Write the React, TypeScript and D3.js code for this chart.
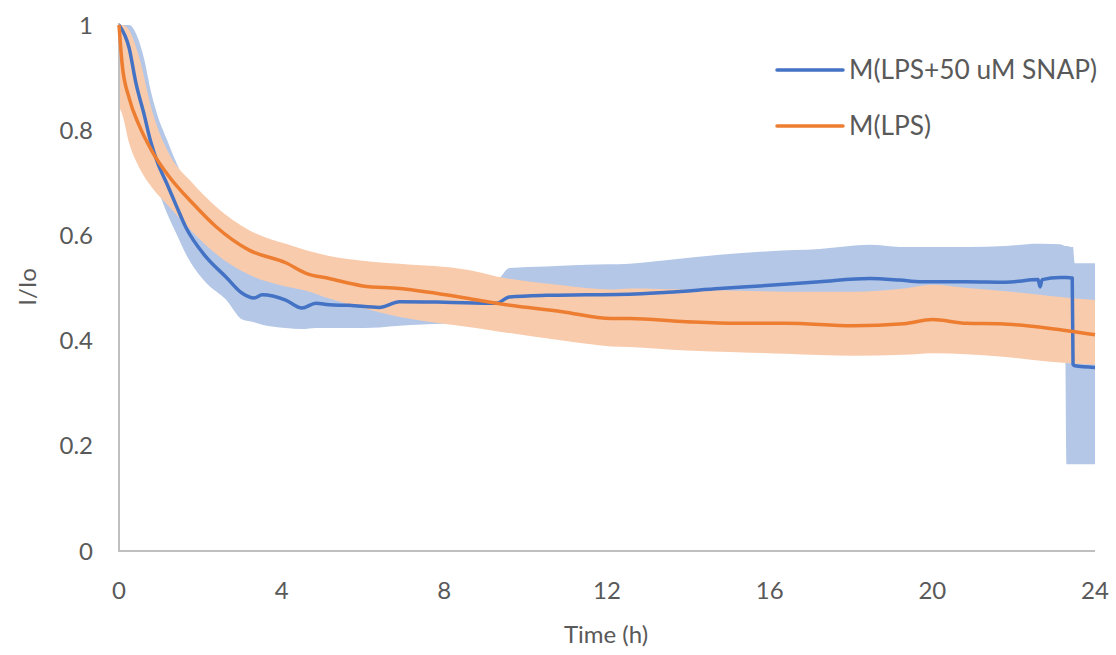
import React from "react";
import * as d3 from "d3";

// M(LPS+50 uM SNAP) — mean with shaded spread
const snapTime = [0, 0.25, 0.41, 0.62, 0.78, 0.94, 1.19, 1.4, 1.64, 2.14, 2.63, 3.03, 3.32, 3.52, 4.1, 4.5, 4.84, 5.17, 5.66, 6.4, 6.9, 8.0, 9.28, 9.6, 10.5, 11.5, 12.55, 13.5, 14.77, 16.0, 17.23, 18.46, 19.2, 19.7, 20.84, 21.8, 22.6, 22.65, 22.7, 23.14, 23.26, 23.3, 23.44, 23.46, 23.5, 24];
const snapMean = [1.0, 0.956, 0.892, 0.829, 0.778, 0.74, 0.696, 0.658, 0.616, 0.559, 0.521, 0.49, 0.481, 0.487, 0.477, 0.462, 0.471, 0.468, 0.467, 0.463, 0.474, 0.473, 0.471, 0.483, 0.486, 0.487, 0.488, 0.492, 0.499, 0.505, 0.512, 0.518, 0.515, 0.512, 0.512, 0.511, 0.516, 0.502, 0.516, 0.52, 0.52, 0.52, 0.519, 0.355, 0.352, 0.349];
const snapLow = [0.95, 0.88, 0.83, 0.77, 0.72, 0.69, 0.64, 0.605, 0.565, 0.51, 0.478, 0.44, 0.435, 0.43, 0.424, 0.422, 0.424, 0.424, 0.424, 0.425, 0.428, 0.432, 0.43, 0.43, 0.43, 0.43, 0.43, 0.43, 0.44, 0.445, 0.45, 0.455, 0.455, 0.45, 0.45, 0.45, 0.45, 0.45, 0.45, 0.45, 0.45, 0.165, 0.165, 0.165, 0.165, 0.165];
const snapHigh = [1.0, 1.0, 0.985, 0.935, 0.875, 0.83, 0.78, 0.74, 0.7, 0.62, 0.58, 0.55, 0.54, 0.54, 0.535, 0.53, 0.53, 0.53, 0.525, 0.52, 0.515, 0.515, 0.515, 0.538, 0.541, 0.544, 0.546, 0.553, 0.563, 0.57, 0.574, 0.582, 0.578, 0.578, 0.578, 0.58, 0.584, 0.584, 0.584, 0.583, 0.58, 0.58, 0.578, 0.578, 0.547, 0.547];

// M(LPS) — mean with shaded spread
const lpsTime = [0, 0.08, 0.25, 0.49, 0.82, 1.23, 1.8, 2.38, 3.2, 4.1, 4.6, 5.17, 5.99, 6.9, 8.6, 9.28, 10.9, 12.1, 12.55, 13.95, 15.2, 16.4, 18.05, 19.3, 20.0, 20.84, 21.66, 22.9, 24];
const lpsMean = [1.0, 0.924, 0.861, 0.81, 0.759, 0.712, 0.662, 0.617, 0.572, 0.548, 0.528, 0.518, 0.504, 0.499, 0.48, 0.471, 0.455, 0.442, 0.442, 0.436, 0.433, 0.433, 0.428, 0.432, 0.44, 0.433, 0.432, 0.423, 0.411];
const lpsLow = [0.844, 0.83, 0.775, 0.73, 0.69, 0.655, 0.607, 0.565, 0.525, 0.503, 0.495, 0.48, 0.462, 0.445, 0.426, 0.418, 0.4, 0.389, 0.388, 0.381, 0.378, 0.375, 0.371, 0.373, 0.376, 0.374, 0.37, 0.36, 0.354];
const lpsHigh = [1.0, 1.0, 0.99, 0.94, 0.835, 0.755, 0.7, 0.655, 0.61, 0.584, 0.572, 0.561, 0.552, 0.546, 0.534, 0.522, 0.505, 0.497, 0.499, 0.497, 0.495, 0.493, 0.493, 0.499, 0.506, 0.5, 0.495, 0.485, 0.477];

const xTicks = [0, 4, 8, 12, 16, 20, 24];
const yTicks = [0, 0.2, 0.4, 0.6, 0.8, 1];
const seriesNames = ["M(LPS+50 uM SNAP)", "M(LPS)"];

const W = 1116;
const H = 655;
const FONT = "Lato, 'Open Sans', sans-serif";
const TEXT = "#595959";

type Pt = { t: number; m: number; lo: number; hi: number };

function zip(t: number[], m: number[], lo: number[], hi: number[]): Pt[] {
  return t.map((v, i) => ({ t: v, m: m[i], lo: lo[i], hi: hi[i] }));
}

export default function App() {
  const x = d3.scaleLinear().domain([0, 24]).range([119, 1095]);
  const y = d3.scaleLinear().domain([0, 1]).range([551, 25]);

  const snap = zip(snapTime, snapMean, snapLow, snapHigh);
  const lps = zip(lpsTime, lpsMean, lpsLow, lpsHigh);

  const band = d3
    .area<Pt>()
    .x((d) => x(d.t))
    .y0((d) => y(d.lo))
    .y1((d) => y(d.hi))
    .curve(d3.curveMonotoneX);
  const line = d3
    .line<Pt>()
    .x((d) => x(d.t))
    .y((d) => y(d.m))
    .curve(d3.curveMonotoneX);

  const blue = "#4472C4";
  const orange = "#ED7D31";

  return (
    <svg
      width={W}
      height={H}
      style={{ position: "absolute", left: 0, top: 0, background: "#fff" }}
      fontFamily={FONT}
    >
      {/* spread bands */}
      <path d={band(snap) ?? ""} fill="#B4C7E7" />
      <path d={band(lps) ?? ""} fill="#F8CBAD" />

      {/* axes */}
      <line x1={x(0)} x2={x(0)} y1={y(1) - 2} y2={y(0)} stroke="#BFBFBF" strokeWidth={2} />
      <line x1={x(0) - 1} x2={x(24)} y1={y(0)} y2={y(0)} stroke="#BFBFBF" strokeWidth={2} />

      {/* mean lines */}
      <path d={line(snap) ?? ""} fill="none" stroke={blue} strokeWidth={3.5} strokeLinejoin="round" />
      <path d={line(lps) ?? ""} fill="none" stroke={orange} strokeWidth={3.5} strokeLinejoin="round" />

      {/* y ticks */}
      {yTicks.map((v) => (
        <text key={v} x={93} y={y(v)} dy="0.36em" textAnchor="end" fontSize={24} fill={TEXT}>
          {d3.format("~g")(v)}
        </text>
      ))}

      {/* x ticks */}
      {xTicks.map((v) => (
        <text key={v} x={x(v)} y={590} dy="0.36em" textAnchor="middle" fontSize={24} fill={TEXT}>
          {v}
        </text>
      ))}

      {/* axis titles */}
      <text x={606} y={634} dy="0.36em" textAnchor="middle" fontSize={24} fill={TEXT}>
        Time (h)
      </text>
      <text
        transform={`translate(27,287) rotate(-90)`}
        dy="0.36em"
        textAnchor="middle"
        fontSize={24}
        fill={TEXT}
      >
        I/Io
      </text>

      {/* legend */}
      {seriesNames.map((name, i) => {
        const ly = 70 + i * 56;
        return (
          <g key={name}>
            <line x1={777} x2={843} y1={ly} y2={ly} stroke={i === 0 ? blue : orange} strokeWidth={3.5} strokeLinecap="round" />
            <text x={849} y={ly} dy="0.36em" fontSize={26.3} fill={TEXT}>
              {name}
            </text>
          </g>
        );
      })}
    </svg>
  );
}
